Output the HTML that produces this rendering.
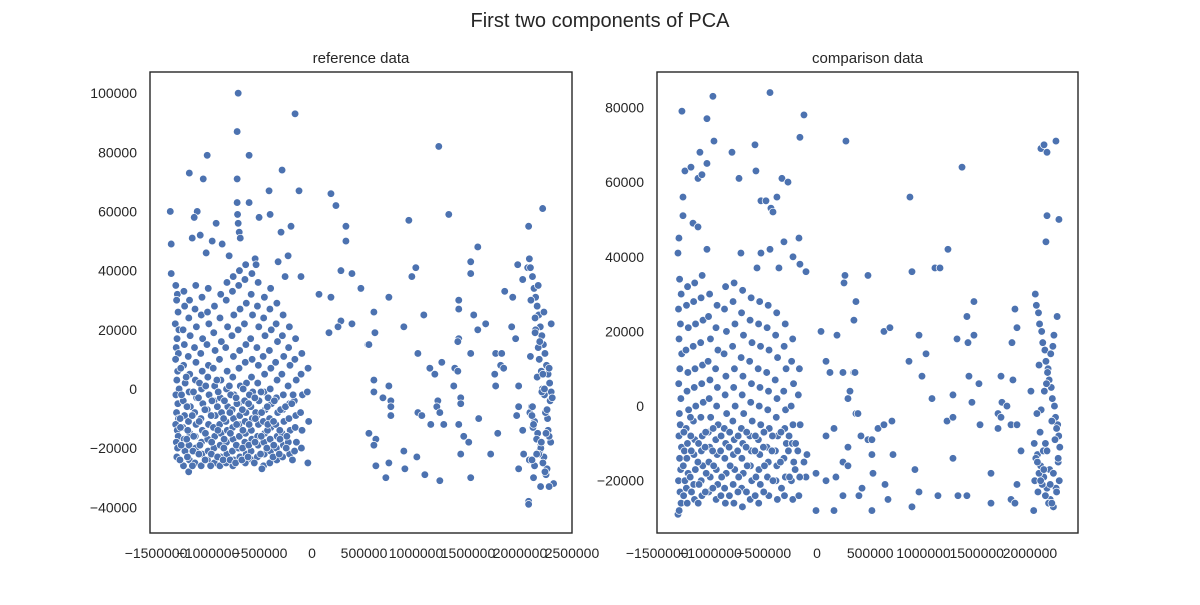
<!DOCTYPE html>
<html><head><meta charset="utf-8"><style>
body{margin:0;background:#fff;font-family:"Liberation Sans",sans-serif}
svg text{font-family:"Liberation Sans",sans-serif;fill:#262626}
</style></head><body>
<svg id="chart" width="1200" height="600" xmlns="http://www.w3.org/2000/svg">
<rect width="1200" height="600" fill="#fff"/>
<text x="600" y="27" text-anchor="middle" font-size="20">First two components of PCA</text>
</svg>
<script>
// values in thousands
const refXK=[-710,-163,-720,-1008,-605,-1180,-1046,-720,-288,-1363,-1104,-1133,-720,-605,-413,-125,182,230,326,326,-716,-710,-700,-690,-509,-403,-202,-298,-922,-1354,-1152,-1075,-960,-864,-1018,-797,-547,-538,-230,-326,-1354,278,384,470,-106,-259,67,182,278,384,163,250,538,
1219,2218,931,1315,2083,1594,998,960,1526,1526,739,595,605,547,1075,883,1411,1411,1555,1670,1594,1853,1930,1920,1958,1978,2074,2026,1018,1411,1402,1526,1133,1181,1248,1373,1402,1766,1824,1814,1843,1757,1766,595,595,739,682,758,758,758,1363,1430,1430,1210,1200,1229,1018,1056,1142,1267,1411,1603,547,614,595,1459,1507,1786,883,1008,1430,1718,614,739,893,710,1085,1229,1526,1987,1987,1968,2026,2035,1987,2083,2083,2198,2323,
-1310,-1295,-1302,-1288,-1315,-1280,-1298,-1306,-1285,-1312,-1292,-1300,-1278,-1309,-1290,-1303,-1284,-1311,-1296,-1287,-1305,-1293,-1300,
-1232,-1225,-1240,-1228,-1235,-1220,-1238,-1226,-1242,-1230,-1222,-1236,
-1178,-1185,-1172,-1190,-1176,-1182,-1170,-1188,-1175,-1183,-1179,-1186,
-1118,-1125,-1112,-1130,-1116,-1122,-1110,-1128,-1115,-1123,-1119,-1126,
-1058,-1065,-1052,-1070,-1056,-1062,-1050,-1068,-1055,-1063,-1059,-1066,
-998,-1005,-992,-1010,-996,-1002,-990,-1008,-995,-1003,-999,-1006,
-938,-945,-932,-950,-936,-942,-930,-948,-935,-943,-939,
-878,-885,-872,-890,-876,-882,-870,-888,-875,-883,-879,-886,
-818,-825,-812,-830,-816,-822,-810,-828,-815,-823,-819,-826,
-758,-765,-752,-770,-756,-762,-750,-768,-755,-763,-759,-766,-752,-761,
-698,-705,-692,-710,-696,-702,-690,-708,-695,-703,-699,-706,-694,
-638,-645,-632,-650,-636,-642,-630,-648,-635,-643,-639,-646,-633,-641,
-578,-585,-572,-590,-576,-582,-570,-588,-575,-583,-579,-586,-574,
-518,-525,-512,-530,-516,-522,-510,-528,-515,-523,-519,-526,
-458,-465,-452,-470,-456,-462,-450,-468,-455,-463,-459,-466,
-398,-405,-392,-410,-396,-402,-390,-408,-395,-403,-399,-406,
-338,-345,-332,-350,-336,-342,-330,-348,-335,-343,-339,
-278,-285,-272,-290,-276,-282,-270,-288,-275,-283,
-218,-225,-212,-230,-216,-222,-210,-228,-215,
-158,-165,-152,-170,-156,-162,-150,-168,
-98,-105,-92,-110,-96,-102,
-38,-45,-32,-40,
2090,2120,2150,2180,2210,2240,2270,2300,2100,2135,2165,2195,2225,2255,2285,2110,2140,2170,2200,2230,2260,2290,2095,2125,2160,2190,2220,2250,2280,2310,2105,2145,2175,2205,2235,2265,2295,2115,2150,2185,2215,2245,2275,2090,2130,2165,2200,2240,2270,2300,2120,2180,2230,2280,2140,2210,2260,
-1265,-1258,-1270,-1262,-1255,-1268,-1205,-1198,-1210,-1202,-1195,-1145,-1150,-1140,-1152,-1138,-1088,-1082,-1092,-1085,-1078,-1028,-1035,-1022,-1030,-1025,-968,-975,-962,-970,-965,-908,-915,-902,-910,-905,-848,-855,-842,-850,-845,-788,-795,-782,-790,-785,-728,-735,-722,-730,-725,-668,-675,-662,-670,-665,-608,-615,-602,-610,-605,-548,-555,-542,-550,-545,-488,-495,-482,-490,-485,-428,-435,-422,-430,-425,-368,-375,-362,-370,-308,-315,-302,-310,-248,-255,-242,-188,-195,-182,
2100,2130,2160,2190,2220,2250,2280,2115,2145,2175,2205,2235,2265,2295];
const refYK=[100,93,87,79,79,73,71,71,74,60,60,58,63,63,67,67,66,62,55,50,59,56,53,51,58,59,55,53,56,49,51,52,50,49,46,45,44,42,45,43,39,40,39,34,38,38,32,31,23,22,19,21,15,
82,61,57,59,55,48,41,38,43,39,31,26,19,15,25,21,30,27,25,22,20,33,31,21,17,42,41,37,12,17,16,12,7,5,9,7,6,12,12,8,7,5,1,3,-1,1,-3,-4,-6,-9,1,-3,-5,-4,-6,-8,-8,-9,-12,-12,-12,-10,-15,-17,-19,-16,-18,-15,-21,-23,-22,-22,-26,-25,-27,-30,-29,-31,-30,1,-6,-9,-14,-22,-27,-38,-39,-33,-32,
35,32,30,26,22,20,17,14,12,10,6,3,0,-2,-5,-8,-10,-12,-14,-16,-18,-20,-23,
33,28,20,15,8,2,-4,-9,-13,-17,-21,-26,
30,24,18,11,5,-1,-6,-11,-15,-19,-24,-28,
35,27,21,14,9,3,-3,-8,-12,-16,-20,-25,
31,25,17,12,6,0,-5,-10,-14,-18,-22,-26,
34,26,22,15,8,4,-2,-7,-12,-17,-21,-24,
28,19,13,7,1,-4,-9,-13,-16,-20,-25,
32,24,16,10,3,-3,-8,-12,-15,-19,-23,-26,
36,30,21,14,6,0,-6,-11,-14,-18,-22,-25,
38,33,25,18,11,4,-2,-7,-10,-13,-17,-21,-24,-26,
40,35,27,20,13,7,1,-5,-9,-12,-16,-20,-23,
42,37,29,22,15,9,2,-4,-8,-11,-15,-18,-22,-25,
39,32,25,17,10,4,-1,-6,-10,-14,-17,-21,-24,
36,28,21,14,8,2,-4,-9,-12,-16,-19,-23,
31,24,18,11,5,-1,-7,-11,-15,-18,-22,-26,
34,27,20,13,7,0,-5,-10,-13,-17,-21,-25,
29,22,16,9,3,-3,-8,-12,-16,-20,-24,
25,18,11,5,-2,-7,-11,-15,-19,-23,
21,14,8,1,-5,-10,-14,-18,-22,
17,10,3,-4,-9,-13,-18,-21,
12,5,-2,-8,-14,-20,
7,-1,-11,-25,
44,38,31,25,18,12,5,-1,41,34,28,21,15,8,2,-6,-11,-15,-19,-23,-27,-4,-8,-13,-17,-21,-25,-29,-33,-3,30,24,14,6,-2,-10,-18,-9,20,10,0,-8,-16,-24,-12,4,-20,-28,-14,22,-6,-22,26,-16,-26,
-1,-7,-13,-19,-24,7,-2,-10,-17,-23,4,-6,-14,-21,-26,-1,-9,-16,-22,2,-3,-11,-19,-24,-7,1,-7,-15,-22,-26,-4,-9,-18,-23,3,-1,-6,-14,-20,-24,-4,-10,-17,-24,1,-2,-8,-15,-19,-25,-5,-3,-12,-20,-24,0,-7,-14,-19,-23,-2,-5,-12,-18,-25,-8,-3,-10,-16,-22,-27,-1,-8,-14,-20,-3,-6,-12,-19,-23,-4,-11,-17,-22,-7,-14,-20,-6,-16,-24,
-5,-2,11,-30,-22,16,5,-15,7,-24,19,35,-18,0];
const cmpXK=[-441,-977,-1268,-1033,-122,-160,272,-967,-582,-798,-1099,-1033,-1240,-1183,-1117,-1080,-732,-573,-329,-272,-1258,-1258,-526,-479,-376,-432,-413,-1164,-1117,-1296,-1305,-1033,-714,-526,-441,-310,-169,-225,-160,-103,-357,-563,
263,254,366,347,38,188,85,122,244,347,310,291,366,85,160,291,244,291,178,85,-9,-94,-122,-103,244,-9,160,-1305,
1362,873,2103,2132,2160,2244,2160,2272,2150,1230,1108,1155,892,479,1474,1408,1474,1315,1418,1859,1878,1831,629,685,958,1024,864,986,1427,1521,1728,1840,2009,357,1080,1277,1455,1737,1784,1700,1728,1700,1822,1878,1531,1221,1277,385,413,479,516,573,629,704,516,714,526,639,423,394,667,516,920,958,892,1136,1324,1408,1277,1634,1634,1822,1859,1878,1916,
-1290,-1275,-1300,-1282,-1295,-1270,-1288,-1298,-1278,-1292,-1284,-1296,-1272,-1290,-1280,-1300,-1286,-1276,-1294,
-1215,-1225,-1208,-1230,-1212,-1220,-1205,-1228,-1216,-1222,-1210,-1226,-1218,
-1148,-1158,-1140,-1162,-1145,-1152,-1138,-1160,-1147,-1155,-1142,-1157,-1150,
-1078,-1088,-1070,-1092,-1075,-1082,-1068,-1090,-1077,-1085,-1072,-1087,-1080,
-1008,-1018,-1000,-1022,-1005,-1012,-998,-1020,-1007,-1015,-1002,-1017,
-938,-948,-930,-952,-935,-942,-928,-950,-937,-945,-932,-947,
-858,-868,-850,-872,-855,-862,-848,-870,-857,-865,-852,-867,-860,
-778,-788,-770,-792,-775,-782,-768,-790,-777,-785,-772,-787,-780,
-698,-708,-690,-712,-695,-702,-688,-710,-697,-705,-692,-707,-700,
-618,-628,-610,-632,-615,-622,-608,-630,-617,-625,-612,-627,
-538,-548,-530,-552,-535,-542,-528,-550,-537,-545,-532,-547,
-458,-468,-450,-472,-455,-462,-448,-470,-457,-465,-452,
-378,-388,-370,-392,-375,-382,-368,-390,-377,-385,-372,
-298,-308,-290,-312,-295,-302,-288,-310,-297,-305,
-228,-238,-220,-242,-225,-232,-218,-240,-227,
-165,-175,-158,-180,-162,-170,
2050,2080,2110,2140,2170,2200,2230,2260,2060,2090,2120,2150,2180,2210,2240,2270,2040,2070,2100,2130,2160,2190,2220,2250,2280,2055,2085,2115,2145,2175,2205,2235,2265,2045,2075,2105,2135,2165,2195,2225,2255,2065,2125,2185,2245,2035,2095,2155,2215,2275,
-1250,-1245,-1255,-1240,-1252,-1185,-1180,-1190,-1178,-1188,-1112,-1118,-1108,-1115,-1045,-1050,-1040,-1048,-975,-980,-970,-978,-900,-905,-895,-902,-820,-825,-815,-822,-740,-745,-735,-742,-660,-665,-655,-662,-578,-583,-573,-580,-498,-503,-493,-500,-418,-423,-413,-338,-343,-333,-262,-268,-258,-200,-205,
2070,2100,2130,2160,2190,2220,2250,2085,2145,2205,2265];
const cmpYK=[84,83,79,77,78,72,71,71,70,68,68,65,63,64,61,62,61,63,61,60,56,51,55,55,56,53,52,49,48,45,41,42,41,41,42,44,45,40,38,36,37,37,
35,33,28,23,20,19,12,9,9,9,4,2,-2,-8,-6,-11,-15,-16,-19,-20,-18,-13,-15,-19,-24,-28,-28,-29,
64,56,69,70,68,71,51,50,44,42,37,37,36,35,28,24,19,18,17,26,21,17,20,21,19,14,12,8,8,6,8,7,4,9,2,3,1,1,0,-2,-3,-6,-5,-5,-5,-4,-3,-2,-8,-9,-9,-6,-5,-4,-13,-13,-18,-21,-22,-24,-25,-28,-17,-23,-27,-24,-24,-24,-14,-18,-26,-25,-26,-21,-12,
34,30,26,22,18,14,10,6,2,-2,-5,-8,-11,-14,-17,-20,-23,-26,-28,
32,27,21,15,9,4,-1,-6,-10,-14,-18,-22,-26,
33,28,22,16,10,5,0,-4,-9,-13,-17,-21,-25,
35,29,23,17,11,6,1,-3,-8,-12,-16,-20,-24,
30,24,18,12,7,2,-3,-7,-11,-15,-19,-23,
27,21,15,10,5,0,-5,-9,-13,-17,-21,-25,
32,26,20,14,8,3,-2,-6,-10,-14,-18,-22,-26,
33,28,22,16,10,5,0,-4,-9,-13,-17,-21,-26,
31,25,19,13,8,3,-2,-6,-10,-14,-18,-22,-27,
29,23,17,12,6,1,-4,-8,-12,-16,-20,-25,
28,22,16,10,5,0,-5,-9,-13,-17,-21,-26,
27,21,15,9,4,-1,-6,-11,-15,-19,-24,
25,19,13,7,2,-3,-8,-12,-16,-20,-25,
22,16,10,4,-1,-6,-10,-14,-19,-24,
18,12,6,0,-5,-10,-15,-20,-25,
10,3,-5,-12,-19,-24,
30,25,20,15,10,5,0,-5,27,22,17,12,7,2,-3,-8,-10,-13,-16,-19,-22,-25,-27,-6,-11,-14,-18,-21,-24,-26,-4,-9,-15,-20,-23,-1,4,9,14,19,24,-2,-12,-17,-22,-28,-7,6,16,-20,
-7,-12,-16,-20,-24,-8,-12,-19,-23,-3,-10,-15,-21,-26,-7,-11,-18,-23,-6,-12,-16,-22,-8,-12,-19,-24,-7,-11,-16,-24,-8,-12,-19,-23,-7,-11,-16,-23,-8,-12,-19,-24,-7,-11,-16,-23,-8,-12,-20,-7,-15,-22,-8,-12,-19,-10,-17,
-15,-20,-17,-12,-21,-18,-23,11,-10,-26,-14];
const refXTicks=[-1500000,-1000000,-500000,0,500000,1000000,1500000,2000000,2500000];
const refYTicks=[-40000,-20000,0,20000,40000,60000,80000,100000];
const cmpXTicks=[-1500000,-1000000,-500000,0,500000,1000000,1500000,2000000];
const cmpYTicks=[-20000,0,20000,40000,60000,80000];

const NS='http://www.w3.org/2000/svg';
const svg=document.getElementById('chart');
function mk(tag,attrs,parent){const e=document.createElementNS(NS,tag);for(const k in attrs)e.setAttribute(k,attrs[k]);(parent||svg).appendChild(e);return e;}
function lin(d0,d1,r0,r1){return v=>r0+(v-d0)*(r1-r0)/(d1-d0);}
function panel(name,title,L,R,T,B,xd,yd,xs,ys,xt,yt){
  const g=mk('g',{});
  
  
  const sx=lin(xd[0],xd[1],L,R), sy=lin(yd[0],yd[1],B,T);
  const t=mk('text',{x:(L+R)/2,y:T-9,'text-anchor':'middle','font-size':15},g);
  t.textContent=title;
  
  
  xt.forEach(v=>{const e=mk('text',{x:sx(v),y:B+25,'text-anchor':'middle','font-size':14},g);e.textContent=(v<0?'\u2212':'')+Math.abs(v);
    
    });
  yt.forEach(v=>{const e=mk('text',{x:L-13,y:sy(v)+5,'text-anchor':'end','font-size':14},g);e.textContent=(v<0?'\u2212':'')+Math.abs(v);
    
    });
  const pts=mk('g',{},g);
  
  
  for(let i=0;i<Math.min(xs.length,ys.length);i++){
    const c=mk('circle',{cx:sx(xs[i]*1000),cy:sy(ys[i]*1000),r:3.8,fill:'#4c72b0',stroke:'#fff','stroke-width':0.7},pts);
    
    
  }
  const f=mk('rect',{x:L,y:T,width:R-L,height:B-T,fill:'none',stroke:'#262626','stroke-width':1.4},g);
  
  
}
panel('reference-panel','reference data',150,572,72,533,[-1558000,2500000],[-48700,107150],refXK,refYK,refXTicks,refYTicks);
panel('comparison-panel','comparison data',657,1078,72,533,[-1502000,2451000],[-34000,89500],cmpXK,cmpYK,cmpXTicks,cmpYTicks);
</script>
</body></html>
